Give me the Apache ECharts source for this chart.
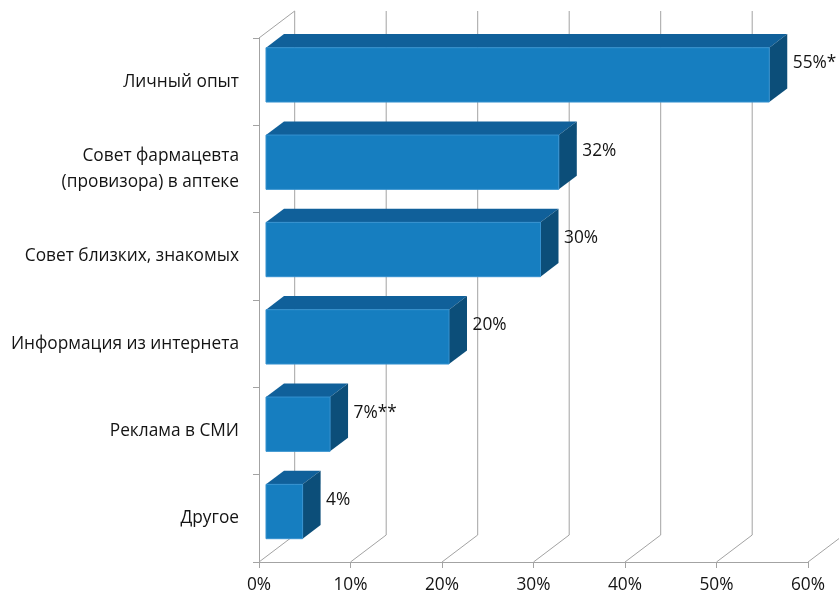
<!DOCTYPE html>
<html>
<head>
<meta charset="utf-8">
<script src="https://cdn.jsdelivr.net/npm/echarts@6/dist/echarts.min.js"></script>
<style>
  html, body { margin: 0; padding: 0; background: #ffffff; }
  #chart { width: 839px; height: 595px; }
</style>
</head>
<body>
<div id="chart"></div>
<script>
// Sources of information (share of respondents, %)
const categories = [
  'Личный опыт',
  'Совет фармацевта\n(провизора) в аптеке',
  'Совет близких, знакомых',
  'Информация из интернета',
  'Реклама в СМИ',
  'Другое'
];
const values = [55, 32, 30, 20, 7, 4];
const valueLabels = ['55%*', '32%', '30%', '20%', '7%**', '4%'];
const axisTicks = [0, 10, 20, 30, 40, 50, 60];

// 3D projection offsets (pixels)
const WALL_DX = 35.7, WALL_DY = -27;   // depth of the chart box
const FACE_DX = 7, FACE_DY = -6.8;     // front face of bars inside the box
const BAR_DX = 18, BAR_DY = -13.6;     // depth of each bar
const BAR_RATIO = 0.622;

const FONT = '"Open Sans", Lato, sans-serif';
const FONT_SIZE = 17.3;
const GRID_COLOR = '#a3a3a3';
const TEXT_COLOR = '#141414';

const chart = echarts.init(document.getElementById('chart'), null, { renderer: 'canvas' });

const barData = values.map((v, i) => [v, i]);
const tickData = axisTicks.map(t => [t, 0]);

chart.setOption({
  animation: false,
  backgroundColor: '#ffffff',
  grid: { left: 259, top: 38, width: 549, height: 524, containLabel: false },
  xAxis: {
    type: 'value', min: 0, max: 60, interval: 10,
    axisLine: { show: true, lineStyle: { color: GRID_COLOR, width: 1 } },
    axisTick: { show: true, length: 6, lineStyle: { color: GRID_COLOR } },
    splitLine: { show: false },
    axisLabel: { formatter: '{value}%', fontFamily: FONT, fontSize: FONT_SIZE, color: TEXT_COLOR, margin: 15 }
  },
  yAxis: {
    type: 'category', data: categories, inverse: true,
    axisLine: { show: true, lineStyle: { color: GRID_COLOR, width: 1 } },
    axisTick: { show: true, length: 6, lineStyle: { color: GRID_COLOR } },
    axisLabel: { fontFamily: FONT, fontSize: FONT_SIZE, color: TEXT_COLOR, margin: 20, lineHeight: 25.6, align: 'right' }
  },
  series: [
    {
      // back wall gridlines and floor edges
      type: 'custom',
      z: 1,
      silent: true,
      data: tickData,
      renderItem: function (params, api) {
        const cs = params.coordSys;
        const x = api.coord([api.value(0), 0])[0];
        const top = cs.y, bottom = cs.y + cs.height;
        const style = { stroke: GRID_COLOR, lineWidth: 1, fill: null };
        const children = [
          { type: 'line', shape: { x1: x + WALL_DX, y1: top + WALL_DY, x2: x + WALL_DX, y2: bottom + WALL_DY }, style: style },
          { type: 'line', shape: { x1: x, y1: bottom, x2: x + WALL_DX, y2: bottom + WALL_DY }, style: style }
        ];
        if (params.dataIndex === 0) {
          children.push({ type: 'line', shape: { x1: x, y1: top, x2: x + WALL_DX, y2: top + WALL_DY }, style: style });
        }
        if (params.dataIndex === tickData.length - 1) {
          children.shift();
        }
        return { type: 'group', children: children };
      }
    },
    {
      // 3D bars
      type: 'custom',
      z: 5,
      data: barData,
      renderItem: function (params, api) {
        const v = api.value(0), c = api.value(1);
        const p0 = api.coord([0, c]);
        const p1 = api.coord([v, c]);
        const band = api.size([0, 1])[1];
        const h = band * BAR_RATIO;
        const xl = p0[0] + FACE_DX, xr = p1[0] + FACE_DX;
        const yc = p0[1] + FACE_DY;
        const yt = yc - h / 2, yb = yc + h / 2;
        const label = valueLabels[params.dataIndex];
        return {
          type: 'group',
          children: [
            { type: 'polygon', shape: { points: [[xl, yt], [xr, yt], [xr + BAR_DX, yt + BAR_DY], [xl + BAR_DX, yt + BAR_DY]] },
              style: { fill: '#10609a' } },
            { type: 'polygon', shape: { points: [[xr, yt], [xr + BAR_DX, yt + BAR_DY], [xr + BAR_DX, yb + BAR_DY], [xr, yb]] },
              style: { fill: '#0c4e79' } },
            { type: 'rect', shape: { x: xl, y: yt, width: xr - xl, height: h },
              style: { fill: '#167ec0', stroke: '#3591cf', lineWidth: 1 } },
            { type: 'text', x: xr + BAR_DX + 5.5, y: yc - 11.5,
              style: { text: label, font: FONT_SIZE + 'px ' + FONT, fill: TEXT_COLOR, textAlign: 'left', textVerticalAlign: 'middle' } }
          ]
        };
      }
    }
  ]
});
</script>
</body>
</html>
